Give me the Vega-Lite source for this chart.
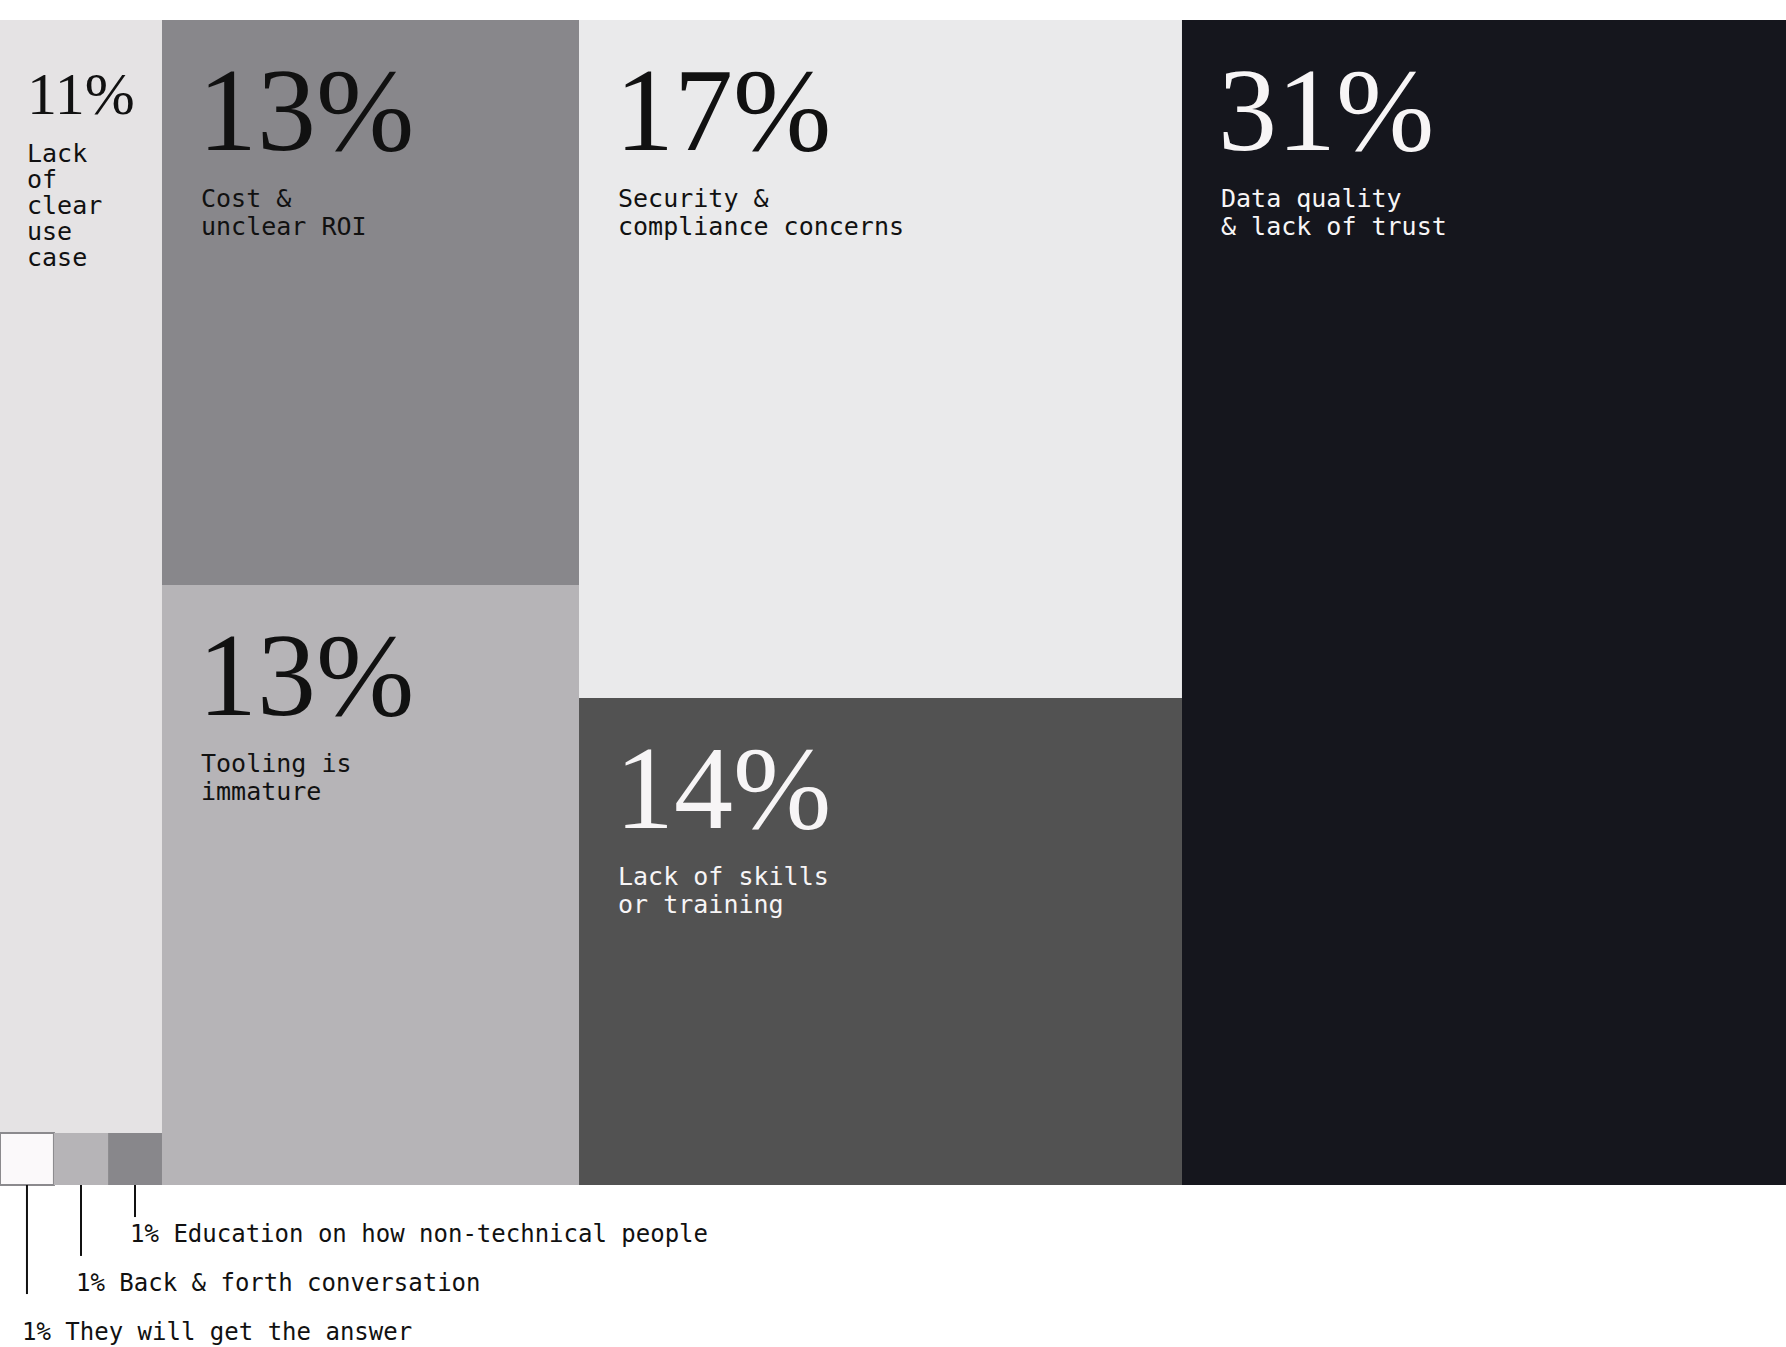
{
  "$schema": "https://vega.github.io/schema/vega-lite/v6.json",
  "width": 1786,
  "height": 1347,
  "padding": 0,
  "autosize": {"type": "none"},
  "background": "#ffffff",
  "view": {"stroke": null},
  "data": {
    "values": [
      {"id": "usecase", "share": 0.11, "label": ["Lack", "of", "clear", "use", "case"], "x0": 0, "x1": 9.07, "y0": 0, "y1": 95.54},
      {"id": "answer", "share": 0.01, "name": "They will get the answer", "x0": 0, "x1": 3.02, "y0": 95.54, "y1": 100, "lineEnd": 109.36, "labelY": 113.3},
      {"id": "backforth", "share": 0.01, "name": "Back & forth conversation", "x0": 3.02, "x1": 6.05, "y0": 95.54, "y1": 100, "lineEnd": 106.09, "labelY": 109.1},
      {"id": "education", "share": 0.01, "name": "Education on how non-technical people", "x0": 6.05, "x1": 9.07, "y0": 95.54, "y1": 100, "lineEnd": 102.75, "labelY": 104.89},
      {"id": "cost", "share": 0.13, "label": ["Cost &", "unclear ROI"], "x0": 9.07, "x1": 32.42, "y0": 0, "y1": 48.5},
      {"id": "tooling", "share": 0.13, "label": ["Tooling is", "immature"], "x0": 9.07, "x1": 32.42, "y0": 48.5, "y1": 100},
      {"id": "security", "share": 0.17, "label": ["Security &", "compliance concerns"], "x0": 32.42, "x1": 66.18, "y0": 0, "y1": 58.2},
      {"id": "skills", "share": 0.14, "label": ["Lack of skills", "or training"], "x0": 32.42, "x1": 66.18, "y0": 58.2, "y1": 100},
      {"id": "data", "share": 0.31, "label": ["Data quality", "& lack of trust"], "x0": 66.18, "x1": 100, "y0": 0, "y1": 100}
    ]
  },
  "transform": [{"calculate": "(datum.x0 + datum.x1) / 2", "as": "xm"}],
  "encoding": {
    "x": {"field": "x0", "type": "quantitative", "scale": {"domain": [0, 100], "range": [0, 1786]}, "axis": null},
    "y": {"field": "y0", "type": "quantitative", "scale": {"domain": [0, 100], "range": [20, 1185]}, "axis": null}
  },
  "layer": [
    {
      "mark": {"type": "rect", "strokeWidth": 2},
      "encoding": {
        "x2": {"field": "x1"},
        "y2": {"field": "y1"},
        "color": {
          "field": "id",
          "type": "nominal",
          "legend": null,
          "scale": {
            "domain": ["usecase", "answer", "backforth", "education", "cost", "tooling", "security", "skills", "data"],
            "range": ["#e5e3e4", "#fbf9fa", "#b6b4b7", "#88878b", "#88878b", "#b6b4b7", "#eaeaeb", "#525252", "#15161d"]
          }
        },
        "stroke": {"condition": {"test": "datum.id === 'answer'", "value": "#8b8a8d"}, "value": null}
      }
    },
    {
      "transform": [{"filter": "datum.share >= 0.13"}],
      "mark": {"type": "text", "font": "Liberation Serif", "fontSize": 118, "align": "left", "baseline": "alphabetic", "dx": 36, "dy": 130},
      "encoding": {
        "text": {"field": "share", "type": "quantitative", "format": ".0%"},
        "color": {"condition": {"test": "datum.id === 'data' || datum.id === 'skills'", "value": "#f7f5f6"}, "value": "#111111"}
      }
    },
    {
      "transform": [{"filter": "datum.id === 'usecase'"}],
      "mark": {"type": "text", "font": "Liberation Serif", "fontSize": 60, "align": "left", "baseline": "alphabetic", "dx": 27, "dy": 94, "color": "#111111"},
      "encoding": {
        "text": {"field": "share", "type": "quantitative", "format": ".0%"}
      }
    },
    {
      "transform": [{"filter": "datum.share >= 0.13"}],
      "mark": {"type": "text", "font": "DejaVu Sans Mono", "fontSize": 25, "lineHeight": 28, "align": "left", "baseline": "alphabetic", "dx": 39, "dy": 187},
      "encoding": {
        "text": {"field": "label"},
        "color": {"condition": {"test": "datum.id === 'data' || datum.id === 'skills'", "value": "#f7f5f6"}, "value": "#111111"}
      }
    },
    {
      "transform": [{"filter": "datum.id === 'usecase'"}],
      "mark": {"type": "text", "font": "DejaVu Sans Mono", "fontSize": 25, "lineHeight": 26, "align": "left", "baseline": "alphabetic", "dx": 27, "dy": 142, "color": "#111111"},
      "encoding": {
        "text": {"field": "label"}
      }
    },
    {
      "transform": [{"filter": "datum.share < 0.05"}],
      "mark": {"type": "rule", "color": "#111111", "strokeWidth": 2},
      "encoding": {
        "x": {"field": "xm", "type": "quantitative"},
        "y": {"field": "y1", "type": "quantitative"},
        "y2": {"field": "lineEnd"}
      }
    },
    {
      "transform": [
        {"filter": "datum.share < 0.05"},
        {"calculate": "format(datum.share, '.0%') + ' ' + datum.name", "as": "caption"}
      ],
      "mark": {"type": "text", "font": "DejaVu Sans Mono", "fontSize": 24, "align": "left", "baseline": "alphabetic", "dx": 22, "color": "#111111"},
      "encoding": {
        "y": {"field": "labelY", "type": "quantitative"},
        "text": {"field": "caption"}
      }
    }
  ]
}
